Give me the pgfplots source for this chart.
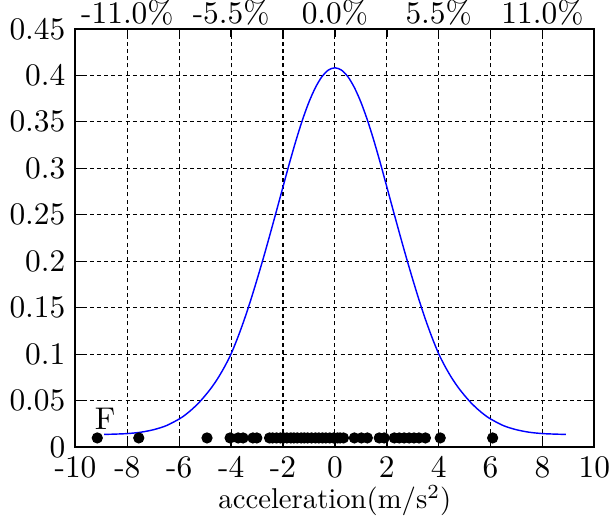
\documentclass[border=0pt]{standalone}
\usepackage{pgfplots}
\pgfplotsset{compat=1.18}
\begin{document}
\begin{tikzpicture}
\begin{axis}[
  width=181pt, height=146pt, scale only axis,
  xmin=-10, xmax=10, ymin=0, ymax=0.45,
  xtick={-10,-8,...,10},
  ytick={0,0.05,0.1,0.15,0.2,0.25,0.3,0.35,0.4,0.45},
  yticklabel style={/pgf/number format/fixed,/pgf/number format/precision=2},
  /pgf/number format/assume math mode=true,
  tick label style={font=\fontsize{10.95}{13}\selectfont},
  xticklabel style={inner sep=0pt, yshift=-3pt},
  grid=major,
  major grid style={black, line width=0.4pt, dash pattern=on 1.4pt off 1.1pt},
  axis line style={black, line width=0.7pt},
  tick style={black, line width=0.5pt},
  major tick length=3pt,
  xlabel={acceleration(m/s$^2$)},
  xlabel style={yshift=1pt},
]
\addplot[blue, line width=0.5pt, smooth] coordinates {
(-8.9,0.0138) (-8.5,0.0141) (-8.0,0.0147) (-7.5,0.0161) (-7.0,0.0188) (-6.5,0.0232)
(-6.0,0.0304) (-5.75,0.0352) (-5.5,0.0410) (-5.25,0.0477) (-5.0,0.0556) (-4.75,0.0644)
(-4.5,0.0747) (-4.25,0.0867) (-4.0,0.1005) (-3.75,0.1176) (-3.5,0.1367) (-3.25,0.1578)
(-3.0,0.1805) (-2.75,0.2042) (-2.5,0.2290) (-2.25,0.2544) (-2.0,0.2801) (-1.75,0.3057)
(-1.5,0.3299) (-1.25,0.3520) (-1.0,0.3712) (-0.75,0.3868) (-0.5,0.3985) (-0.25,0.4056)
(0,0.408)
(0.25,0.4056) (0.5,0.3985) (0.75,0.3868) (1.0,0.3712) (1.25,0.3520) (1.5,0.3299)
(1.75,0.3057) (2.0,0.2801) (2.25,0.2544) (2.5,0.2290) (2.75,0.2042) (3.0,0.1805)
(3.25,0.1578) (3.5,0.1367) (3.75,0.1176) (4.0,0.1005) (4.25,0.0867) (4.5,0.0747)
(4.75,0.0644) (5.0,0.0556) (5.25,0.0477) (5.5,0.0410) (5.75,0.0352) (6.0,0.0304)
(6.5,0.0232) (7.0,0.0188) (7.5,0.0161) (8.0,0.0147) (8.5,0.0141) (8.9,0.0138)
};
\addplot[only marks, mark=*, mark size=1.75pt, black] coordinates {
(-9.16,0.01) (-7.56,0.01) (-4.93,0.01) (-4.04,0.01) (-3.73,0.01) (-3.54,0.01)
(-3.16,0.01) (-3.01,0.01) (-2.52,0.01) (-2.40,0.01) (-2.25,0.01) (-2.10,0.01)
(-1.98,0.01) (-1.85,0.01) (-1.70,0.01) (-1.58,0.01) (-1.45,0.01) (-1.30,0.01)
(-1.18,0.01) (-1.05,0.01) (-0.90,0.01) (-0.75,0.01) (-0.62,0.01) (-0.48,0.01)
(-0.35,0.01) (-0.20,0.01) (-0.05,0.01) (0.10,0.01) (0.20,0.01) (0.33,0.01)
(0.75,0.01) (1.02,0.01) (1.25,0.01) (1.71,0.01) (1.90,0.01) (2.29,0.01)
(2.48,0.01) (2.67,0.01) (2.86,0.01) (3.05,0.01) (3.24,0.01) (3.49,0.01)
(4.06,0.01) (6.08,0.01)
};
\node[font=\fontsize{10.95}{13}\selectfont] at (axis cs:-8.86,0.031) {F};
\end{axis}
\begin{axis}[
  width=181pt, height=146pt, scale only axis,
  xmin=-10, xmax=10, ymin=0, ymax=0.45,
  axis x line*=top, hide y axis,
  axis line style={draw=none},
  major tick length=0pt,
  xtick={-8,-4,0,4,8},
  xticklabels={-11.0\%,-5.5\%,0.0\%,5.5\%,11.0\%},
  xticklabel style={font=\fontsize{10.95}{13}\selectfont, inner sep=0pt, yshift=1pt},
]
\end{axis}
\end{tikzpicture}
\end{document}
